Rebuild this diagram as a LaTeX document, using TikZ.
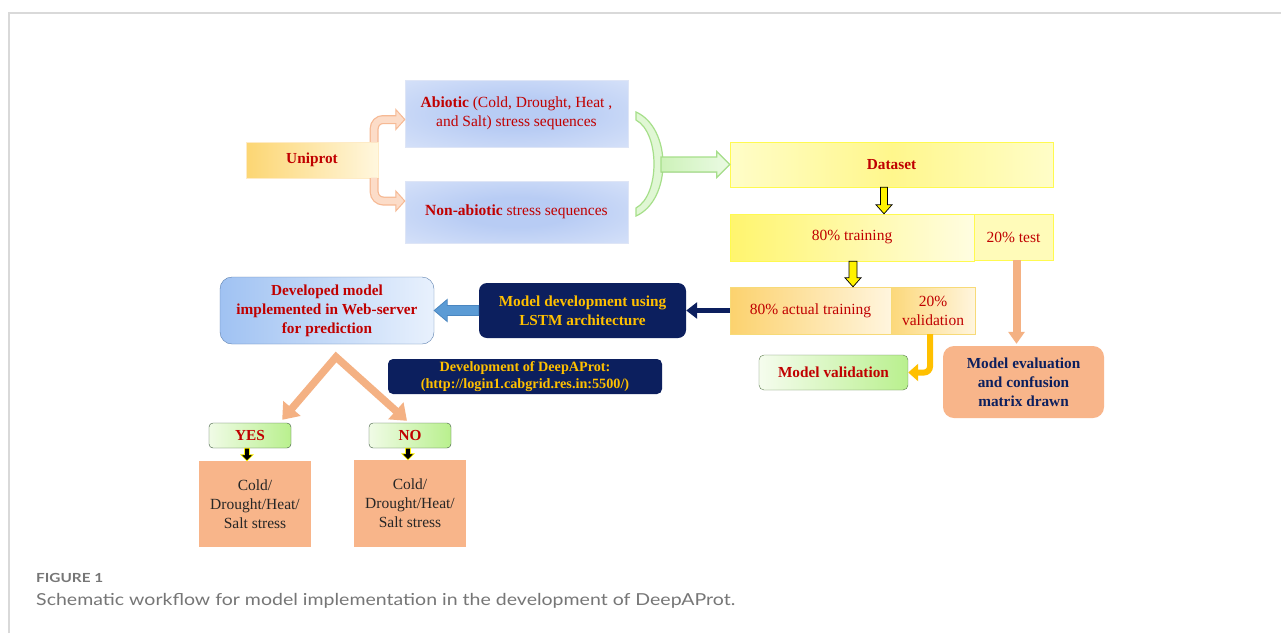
\documentclass[tikz,border=0pt]{standalone}
\usepackage{fontspec}
\setmainfont{Liberation Serif}
\newfontfamily\capfont{Lato}
\usetikzlibrary{arrows.meta,calc}
\definecolor{dred}{HTML}{C00000}
\definecolor{navyc}{HTML}{0C1F5E}
\definecolor{goldc}{HTML}{FFC000}
\definecolor{salm}{HTML}{F8B58A}
\definecolor{salmA}{HTML}{F4B183}
\definecolor{peachE}{HTML}{F6B994}
\definecolor{peachF}{HTML}{FCDCC8}
\definecolor{frame}{HTML}{D9D9D9}
\definecolor{capc}{HTML}{767676}
\definecolor{bgin}{HTML}{B8CCF4}
\definecolor{bgout}{HTML}{E6EDFB}
\pgfdeclareradialshading{bglow}{\pgfpoint{0bp}{0bp}}{color(0bp)=(bgin); color(12bp)=(bgin); color(50bp)=(bgout); color(75bp)=(bgout)}
\newcommand\arrR[6]{\filldraw[#6] ($(#1)+(0,-#3)$) -- ($(#2)+(-#5,-#3)$) -- ($(#2)+(-#5,-#4)$) -- (#2) -- ($(#2)+(-#5,#4)$) -- ($(#2)+(-#5,#3)$) -- ($(#1)+(0,#3)$) -- cycle;}
\newcommand\arrL[6]{\filldraw[#6] ($(#1)+(0,-#3)$) -- ($(#2)+(#5,-#3)$) -- ($(#2)+(#5,-#4)$) -- (#2) -- ($(#2)+(#5,#4)$) -- ($(#2)+(#5,#3)$) -- ($(#1)+(0,#3)$) -- cycle;}
\newcommand\arrD[6]{\filldraw[#6] ($(#1)+(-#3,0)$) -- ($(#2)+(-#3,-#5)$) -- ($(#2)+(-#4,-#5)$) -- (#2) -- ($(#2)+(#4,-#5)$) -- ($(#2)+(#3,-#5)$) -- ($(#1)+(#3,0)$) -- cycle;}
\tikzset{
  base/.style={align=center, inner sep=0pt, text=dred, font=\fontsize{15.5}{19}\selectfont},
  bbase/.style={base, font=\fontsize{15.3}{19}\selectfont\bfseries},
  bluebox/.style={base, draw={rgb,255:red,222;green,229;blue,246}, shading=bglow},
  yarrow/.style={fill=yellow, draw=black, line width=0.7pt},
  karrow/.style={fill=black, draw=yellow, line width=0.7pt},
}
\begin{document}
\begin{tikzpicture}[x=1pt,y=-1pt]
\useasboundingbox (0,0) rectangle (1281,633);
\fill[white] (0,0) rectangle (1281,633);
% frame
\draw[frame, line width=1.3pt] (9,633) -- (9,13) -- (1281,13);

% top part
\node[bbase, draw=yellow!30!orange!20, left color={rgb,255:red,252;green,214;blue,115}, right color={rgb,255:red,255;green,247;blue,222}, minimum width=132pt, minimum height=36pt] (uni) at (312,160) {Uniprot};
\node[bluebox, minimum width=223pt, minimum height=67pt] (abio) at (516.5,113.5) {\textbf{Abiotic} (Cold, Drought, Heat ,\\ and Salt) stress sequences};
\node[bluebox, minimum width=223pt, minimum height=62pt] (nonab) at (516.5,212) {\textbf{Non-abiotic} stress sequences};

% curved arrows from Uniprot
\draw[peachE, line width=9pt] ($(uni.north east)+(-4,0)$) [rounded corners=9pt] |- ($(abio.west)+(-7,6)$);
\filldraw[fill=peachF, draw=peachE, line width=1pt] ($(abio.west)+(-9,-4)$) -- ($(abio.west)+(0,6)$) -- ($(abio.west)+(-9,16)$) -- cycle;
\draw[peachF, line width=6.5pt] ($(uni.north east)+(-4,0.5)$) [rounded corners=9pt] |- ($(abio.west)+(-6,6)$);
\draw[peachE, line width=9pt] ($(uni.south east)+(-4,0)$) [rounded corners=9pt] |- ($(nonab.west)+(-7,-11)$);
\filldraw[fill=peachF, draw=peachE, line width=1pt] ($(nonab.west)+(-9,-21)$) -- ($(nonab.west)+(0,-11)$) -- ($(nonab.west)+(-9,-1)$) -- cycle;
\draw[peachF, line width=6.5pt] ($(uni.south east)+(-4,-0.5)$) [rounded corners=9pt] |- ($(nonab.west)+(-6,-11)$);

% green bracket
\filldraw[fill={rgb,255:red,224;green,247;blue,212}, draw={rgb,255:red,166;green,223;blue,138}, line width=1.2pt]
  (636,112) .. controls (672,128) and (672,200) .. (636,216) -- (636,208) .. controls (660,195) and (660,133) .. (636,120) -- cycle;

% dataset etc
\node[bbase, draw={rgb,255:red,255;green,250;blue,80}, left color={rgb,255:red,255;green,253;blue,200}, right color={rgb,255:red,255;green,253;blue,200}, middle color={rgb,255:red,255;green,247;blue,140}, minimum width=323pt, minimum height=45pt] (ds) at (891.5,164.5) {Dataset};
\coordinate (brk) at (661,164.5);
\arrR{brk}{ds.west}{7.5}{13}{13}{left color={rgb,255:red,205;green,242;blue,185}, right color={rgb,255:red,235;green,250;blue,228}, draw={rgb,255:red,166;green,223;blue,138}, line width=1.2pt}

\node[base, draw={rgb,255:red,255;green,250;blue,80}, left color={rgb,255:red,255;green,245;blue,110}, right color={rgb,255:red,255;green,253;blue,225}, minimum width=244pt, minimum height=47pt] (tr80) at (852,237.5) {80\% training};
\node[base, draw={rgb,255:red,255;green,250;blue,80}, fill={rgb,255:red,255;green,251;blue,185}, minimum width=79pt, minimum height=46pt] (te20) at (1013.5,237) {20\% test};

\node[base, draw={rgb,255:red,247;green,218;blue,120}, left color={rgb,255:red,252;green,210;blue,110}, right color={rgb,255:red,255;green,245;blue,222}, minimum width=161pt, minimum height=47pt] (at80) at (810.5,310.5) {80\% actual training};
\node[base, draw={rgb,255:red,247;green,218;blue,120}, left color={rgb,255:red,252;green,216;blue,122}, right color={rgb,255:red,255;green,245;blue,222}, minimum width=84pt, minimum height=47pt] (va20) at (933,310.5) {20\%\\validation};

\coordinate (y1s) at ($(ds.south)+(-7.5,0)$);
\coordinate (y1e) at (y1s |- tr80.north);
\arrD{y1s}{y1e}{3.5}{8}{9}{yarrow}
\coordinate (y2s) at ($(tr80.south)+(1,0)$);
\coordinate (y2e) at (y2s |- at80.north);
\arrD{y2s}{y2e}{4}{8}{9}{yarrow}

\node[bbase, draw={rgb,255:red,95;green,125;blue,80}, rounded corners=5pt, left color={rgb,255:red,245;green,252;blue,238}, right color={rgb,255:red,185;green,240;blue,142}, minimum width=149pt, minimum height=35pt] (mval) at (833.5,372.5) {Model validation};
\node[bbase, fill=salm, rounded corners=11pt, text=navyc, minimum width=161pt, minimum height=72pt] (meval) at (1023.5,382) {Model evaluation\\and confusion\\matrix drawn};

\draw[salmA, line width=8pt, -{Triangle[length=12pt,width=16pt]}] ($(te20.south)+(3,0)$) -- ($(te20.south |- meval.north)+(3,-2)$);
\draw[goldc, line width=6pt, rounded corners=6pt, -{Triangle[length=10pt,width=17pt]}] ($(va20.south)+(-3,0)$) |- (mval.east);

% model development row
\node[bbase, fill=navyc, rounded corners=8pt, text=goldc, minimum width=207pt, minimum height=55pt] (mdev) at (582.5,310.5) {Model development using\\LSTM architecture};
\node[bbase, draw={rgb,255:red,91;green,127;blue,174}, rounded corners=12pt, left color={rgb,255:red,160;green,194;blue,242}, right color={rgb,255:red,232;green,241;blue,253}, minimum width=214pt, minimum height=67pt] (devm) at (327,310.5) {Developed model\\implemented in Web-server\\for prediction};
\draw[navyc, line width=5pt, -{Triangle[length=11pt,width=16pt]}] (at80.west) -- (mdev.east);
\arrL{mdev.west}{devm.east}{5}{11}{13}{fill={rgb,255:red,91;green,155;blue,213}, draw={rgb,255:red,74;green,134;blue,192}, line width=0.8pt}

\node[bbase, fill=navyc, rounded corners=5pt, text=goldc, minimum width=274pt, minimum height=35pt, font=\fontsize{14.2}{17.5}\selectfont\bfseries] (deep) at (525,376.5) {Development of DeepAProt:\\(http://login1.cabgrid.res.in:5500/)};

% yes / no
\node[bbase, draw={rgb,255:red,60;green,90;blue,60}, rounded corners=4pt, left color={rgb,255:red,240;green,251;blue,230}, right color={rgb,255:red,185;green,240;blue,142}, minimum width=82pt, minimum height=25pt] (yes) at (250,435.5) {YES};
\node[bbase, draw={rgb,255:red,60;green,90;blue,60}, rounded corners=4pt, left color={rgb,255:red,240;green,251;blue,230}, right color={rgb,255:red,185;green,240;blue,142}, minimum width=82pt, minimum height=25pt] (no) at (410,435.5) {NO};
\coordinate (apex) at (336,357);
\draw[salmA, line width=7.5pt, line join=miter, {Triangle[length=15pt,width=22pt]}-{Triangle[length=15pt,width=22pt]}] ($(yes.north east)+(-9,-3)$) -- (apex) -- ($(no.north)+(-3,-2)$);

\node[base, fill=salm, text={rgb,255:red,38;green,38;blue,38}, minimum width=112pt, minimum height=86pt, font=\fontsize{15.5}{19}\selectfont] (c1) at (255,504) {Cold/\\Drought/Heat/\\Salt stress};
\node[base, fill=salm, text={rgb,255:red,38;green,38;blue,38}, minimum width=112pt, minimum height=87pt, font=\fontsize{15.5}{19}\selectfont] (c2) at (410,503.5) {Cold/\\Drought/Heat/\\Salt stress};
\coordinate (k1s) at ($(yes.south)+(-3,0)$);
\coordinate (k1e) at (k1s |- c1.north);
\arrD{k1s}{k1e}{2.5}{6}{6}{karrow}
\coordinate (k2s) at ($(no.south)+(-2,0)$);
\coordinate (k2e) at (k2s |- c2.north);
\arrD{k2s}{k2e}{2.5}{6}{6}{karrow}

% caption
\node[anchor=base west, inner sep=0pt, text=capc, font=\capfont\bfseries\fontsize{12.5}{14}\selectfont] (fig) at (36,582) {\resizebox{67pt}{\height}{FIGURE 1}};
\node[anchor=base west, inner sep=0pt, text=capc, font=\capfont\fontsize{16.5}{19}\selectfont] (cap) at (36,605) {\resizebox{699pt}{\height}{Schematic workflow for model implementation in the development of DeepAProt.}};
\end{tikzpicture}
\end{document}
